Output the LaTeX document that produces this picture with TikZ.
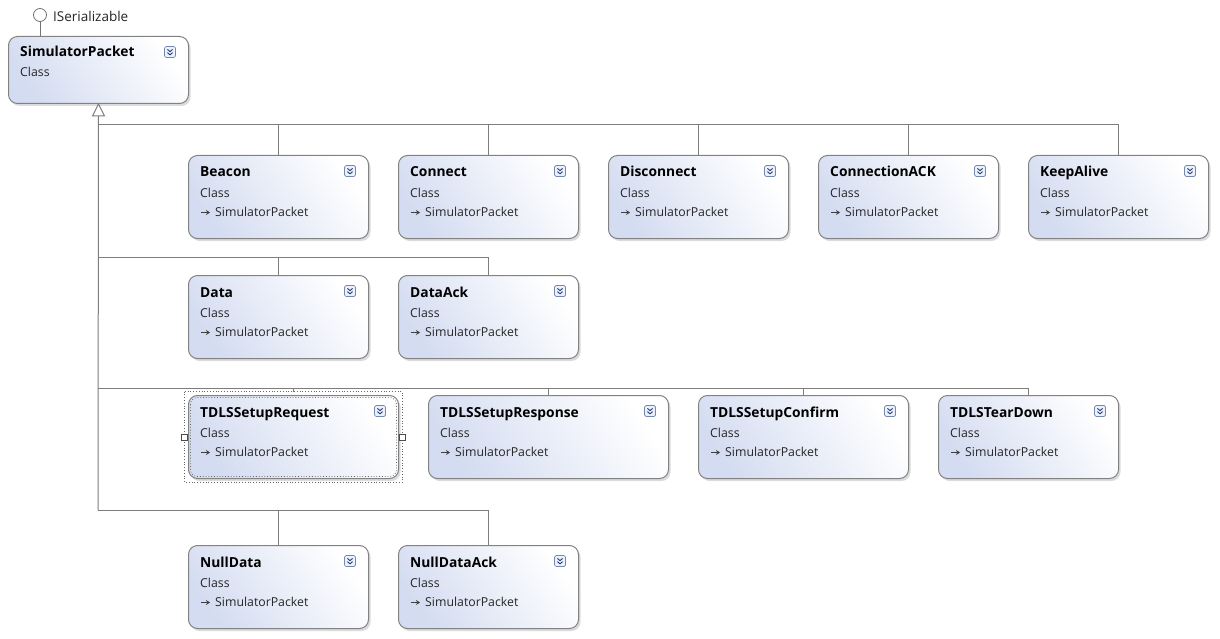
\documentclass[tikz,border=0pt]{standalone}
\usepackage{fontspec}
\setmainfont{Open Sans}
\usetikzlibrary{shadows,arrows.meta}

\definecolor{boxblue}{RGB}{212,220,241}
\definecolor{boxedge}{RGB}{130,130,130}
\definecolor{wire}{RGB}{125,125,125}
\definecolor{iconedge}{RGB}{118,136,176}
\definecolor{iconfill}{RGB}{234,240,252}
\definecolor{chevcol}{RGB}{38,58,112}

\tikzset{
  classbox/.style={draw=boxedge, line width=1pt, rounded corners=9pt,
    top color=white, bottom color=boxblue, shading angle=-55,
    drop shadow={opacity=0.28, shadow xshift=2pt, shadow yshift=-2.5pt},
    anchor=north west, inner sep=0pt},
  ctitle/.style={font=\bfseries\fontsize{13.8}{16}\selectfont, anchor=base west, inner sep=0pt},
  cbody/.style={font=\fontsize{12.3}{14}\selectfont, anchor=base west, inner sep=0pt, text=black!85},
  conn/.style={draw=wire, line width=1pt},
  inharrow/.style={line width=0.9pt, draw=black!75, -{Stealth[length=4pt,width=5pt]}},
  chev/.style={draw=chevcol, line width=0.9pt},
  selframe/.style={draw=black!60, dotted, line width=0.8pt},
  handle/.style={draw=black!70, fill=white, minimum size=6pt, inner sep=0pt, line width=0.6pt},
}

% expand/collapse button in the top right corner of a class shape
\newcommand\expandicon[1]{%
  \node[draw=iconedge, fill=iconfill, rounded corners=1.5pt, minimum size=11pt,
        inner sep=0pt, line width=0.7pt] (#1-icon)
        at ([xshift=-19pt,yshift=-16pt]#1.north east) {};
  \draw[chev] ([xshift=-2.6pt,yshift=2.6pt]#1-icon.center) -- ++(2.6pt,-2.2pt) -- ++(2.6pt,2.2pt);
  \draw[chev] ([xshift=-2.6pt,yshift=-0.6pt]#1-icon.center) -- ++(2.6pt,-2.2pt) -- ++(2.6pt,2.2pt);
}

% derived class: name, left, top, width, title
\newcommand\umlclass[5]{%
  \node[classbox, minimum width=#4pt, minimum height=83pt] (#1) at (#2,#3) {};
  \node[ctitle] (#1-title) at ([xshift=12pt,yshift=-22pt]#1.north west) {#5};
  \node[cbody] (#1-kind) at ([xshift=12pt,yshift=-42pt]#1.north west) {Class};
  \node[cbody] (#1-base) at ([xshift=27pt,yshift=-61.5pt]#1.north west) {SimulatorPacket};
  \draw[inharrow] ([xshift=-14pt,yshift=4pt]#1-base.base west) -- ++(9pt,0);
  \expandicon{#1}
}

\begin{document}
\begin{tikzpicture}[x=1pt, y=-1pt]
  \fill[white] (0,0) rectangle (1220,639);
  \useasboundingbox (0,0) rectangle (1220,639);

  % base class with its interface lollipop
  \node[classbox, minimum width=180pt, minimum height=67pt] (SimulatorPacket) at (8,36) {};
  \node[ctitle] (SimulatorPacket-title) at ([xshift=12pt,yshift=-21pt]SimulatorPacket.north west) {SimulatorPacket};
  \node[cbody] (SimulatorPacket-kind) at ([xshift=12pt,yshift=-41pt]SimulatorPacket.north west) {Class};
  \expandicon{SimulatorPacket}
  \node[draw=black!55, fill=white, circle, minimum size=13pt, inner sep=0pt, line width=0.8pt] (iface) at (40,15) {};
  \node[cbody, font=\fontsize{13.5}{15}\selectfont, anchor=base west] (iface-label) at (53,21.5) {ISerializable};
  \draw[draw=black!55, line width=1pt] (iface.south) -- (iface.south |- SimulatorPacket.north);

  % derived classes
  \umlclass{Beacon}{188}{155}{180}{Beacon}
  \umlclass{Connect}{398}{155}{180}{Connect}
  \umlclass{Disconnect}{608}{155}{180}{Disconnect}
  \umlclass{ConnectionACK}{818}{155}{180}{ConnectionACK}
  \umlclass{KeepAlive}{1028}{155}{180}{KeepAlive}

  \umlclass{Data}{188}{275}{180}{Data}
  \umlclass{DataAck}{398}{275}{180}{DataAck}

  \umlclass{TDLSSetupRequest}{188}{395}{210}{TDLSSetupRequest}
  \umlclass{TDLSSetupResponse}{428}{395}{240}{TDLSSetupResponse}
  \umlclass{TDLSSetupConfirm}{698}{395}{210}{TDLSSetupConfirm}
  \umlclass{TDLSTearDown}{938}{395}{180}{TDLSTearDown}

  \umlclass{NullData}{188}{545}{180}{NullData}
  \umlclass{NullDataAck}{398}{545}{180}{NullDataAck}

  % selection marks on TDLSSetupRequest
  \draw[selframe] ([xshift=-3.5pt,yshift=3.5pt]TDLSSetupRequest.north west)
        rectangle ([xshift=3pt,yshift=-3.5pt]TDLSSetupRequest.south east);
  \draw[selframe, rounded corners=7pt] ([xshift=2.5pt,yshift=-2.5pt]TDLSSetupRequest.north west)
        rectangle ([xshift=-2.5pt,yshift=2.5pt]TDLSSetupRequest.south east);
  \node[handle] (sel-left) at ([xshift=-3.5pt]TDLSSetupRequest.west) {};
  \node[handle] (sel-right) at ([xshift=3pt]TDLSSetupRequest.east) {};

  % generalization trunk and branches
  \coordinate (gen-base) at ([yshift=-12pt]SimulatorPacket.south);
  \coordinate (bus1) at (98,125);
  \coordinate (bus2) at (98,257);
  \coordinate (bus3) at (98,388);
  \coordinate (bus4) at (98,510);
  \draw[conn] (gen-base) -- (bus4);
  \draw[conn, fill=white, line join=miter] (SimulatorPacket.south) -- ++(-6pt,-12pt) -- ++(12pt,0) -- cycle;

  \foreach \c in {Beacon,Connect,Disconnect,ConnectionACK,KeepAlive}
    \draw[conn] (\c.north) |- (bus1);
  \foreach \c in {Data,DataAck}
    \draw[conn] (\c.north) |- (bus2);
  \draw[conn] (TDLSSetupRequest.north) ++(0,3.5pt) |- (bus3);
  \foreach \c in {TDLSSetupResponse,TDLSSetupConfirm,TDLSTearDown}
    \draw[conn] (\c.north) |- (bus3);
  \foreach \c in {NullData,NullDataAck}
    \draw[conn] (\c.north) |- (bus4);
\end{tikzpicture}
\end{document}
